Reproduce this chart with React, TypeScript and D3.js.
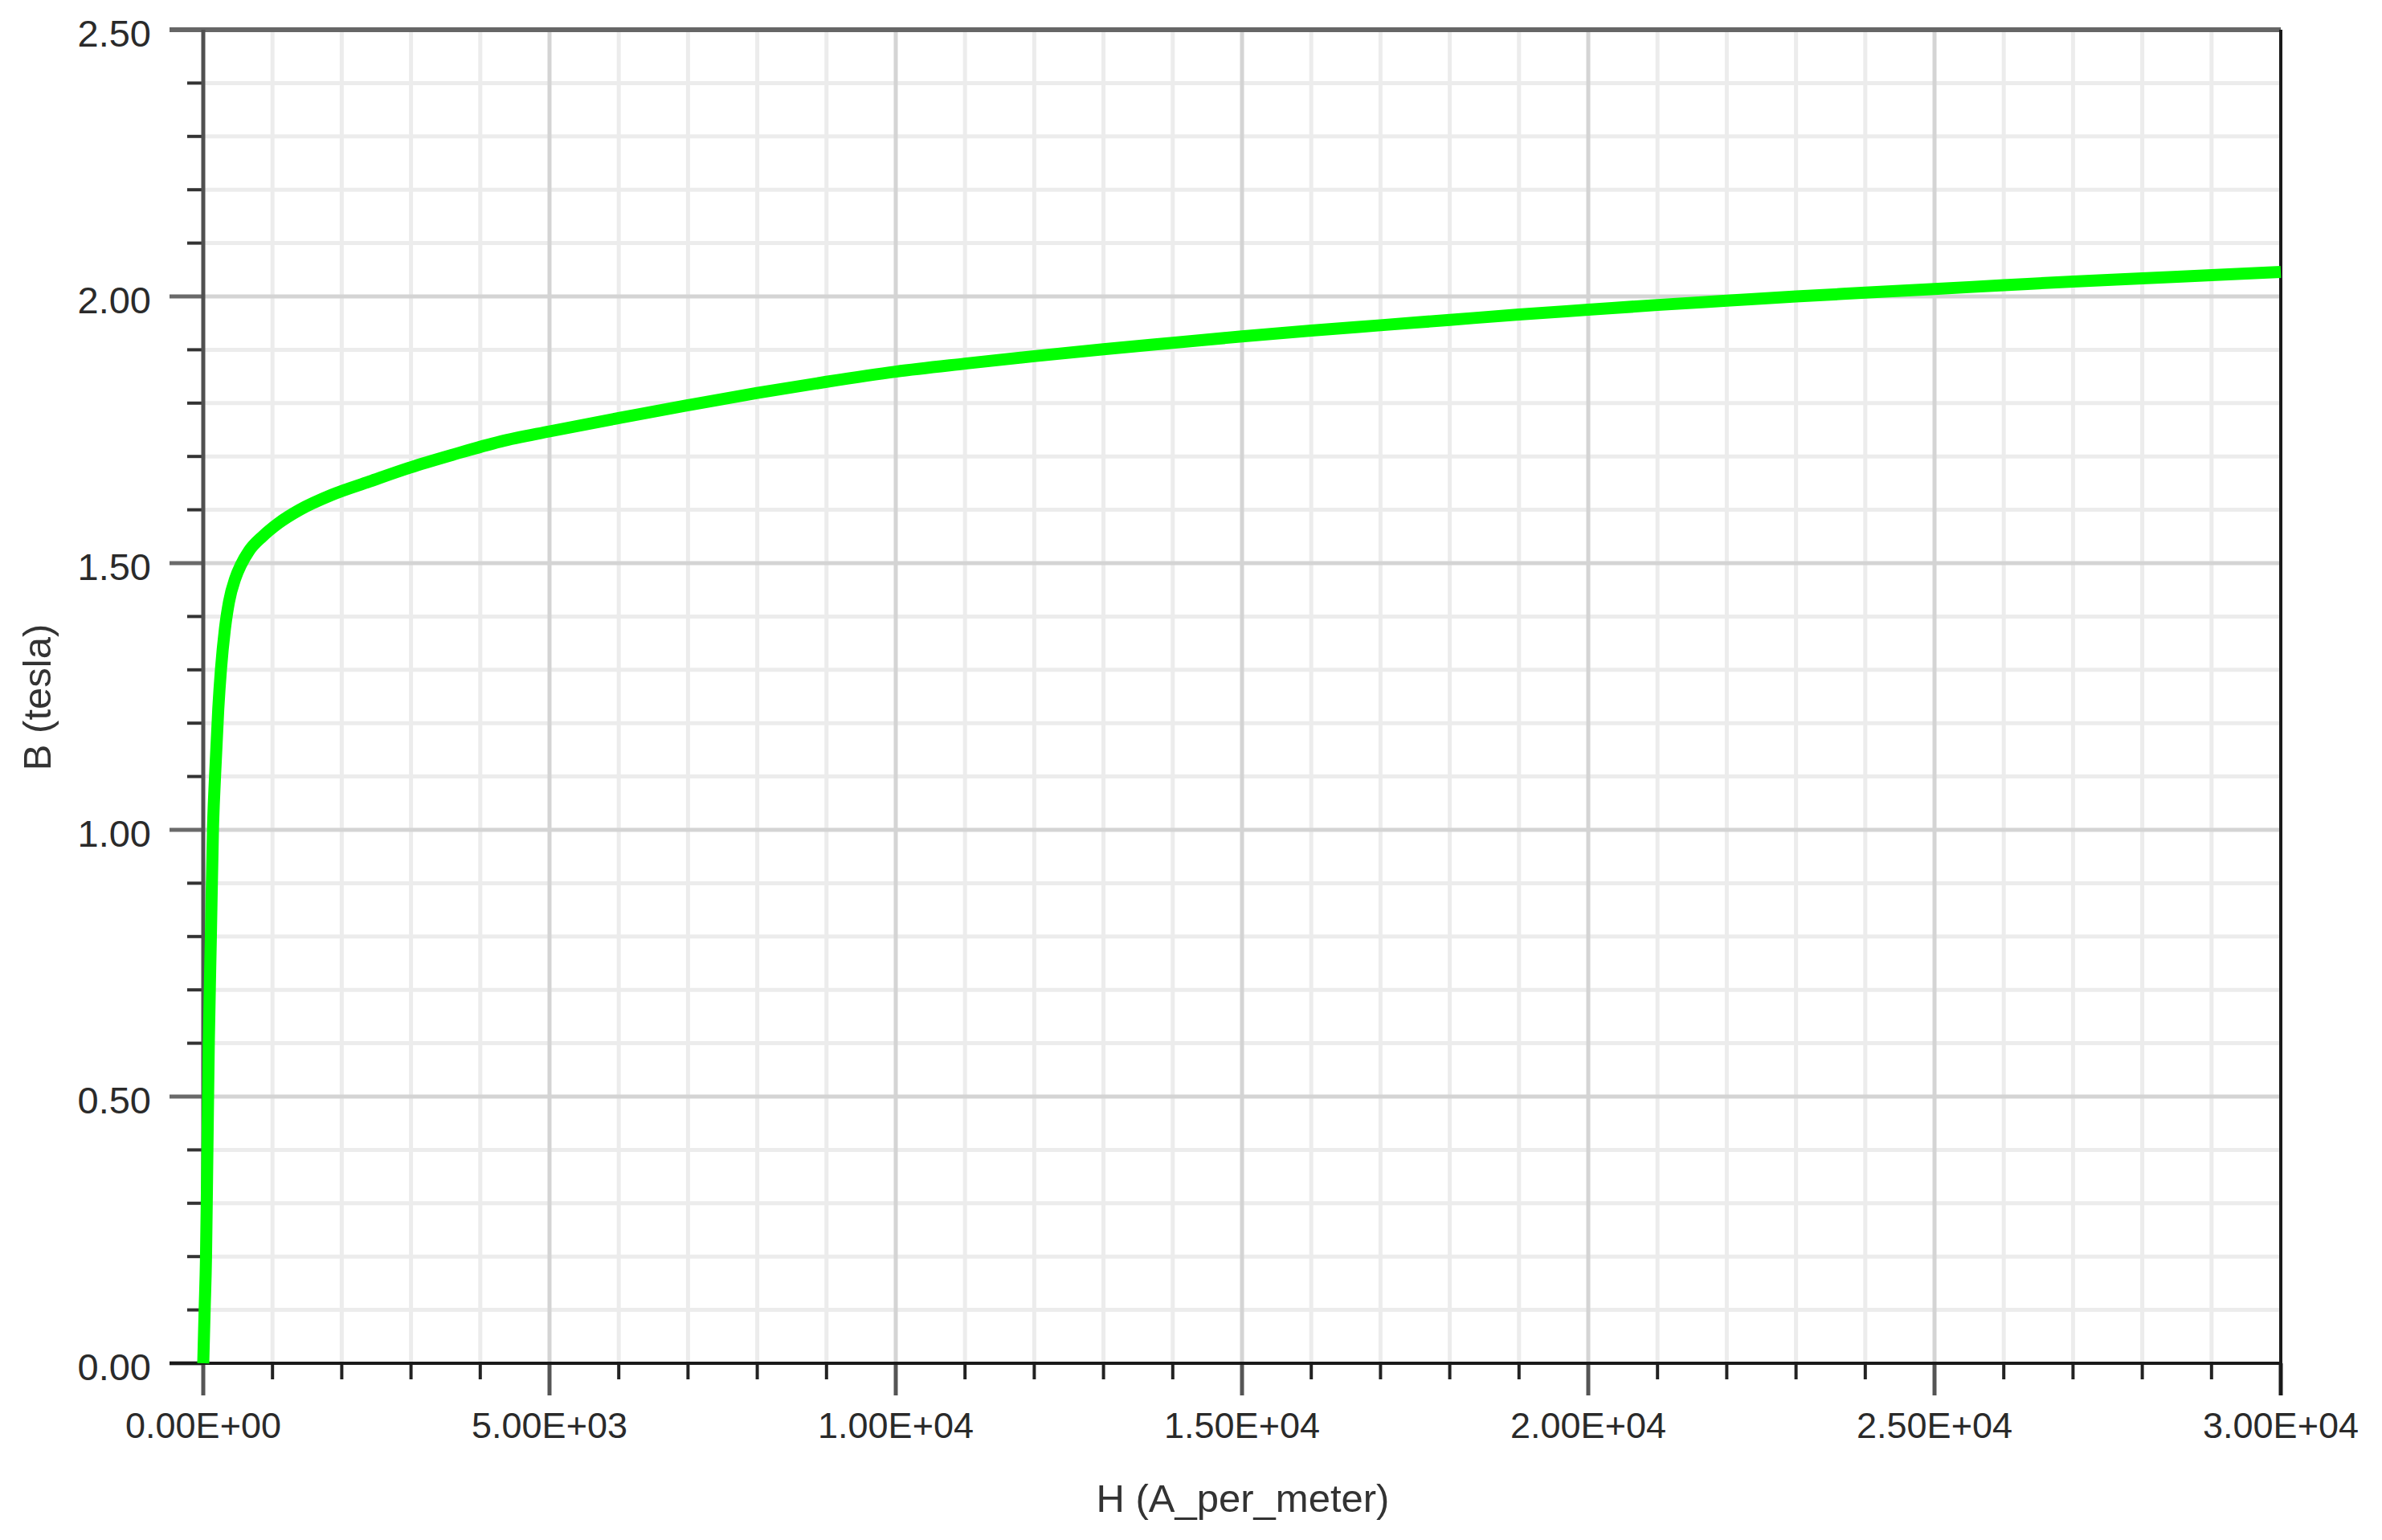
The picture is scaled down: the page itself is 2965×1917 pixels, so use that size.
import React from "react";
import * as d3 from "d3";

// ---- data ----
const H_VALUES = [
  0, 20, 40, 60, 80, 110, 140, 170, 217, 255, 313, 371, 464, 545, 661, 855,
  1087, 1392, 1856, 2401, 2981, 3597, 4293, 5000, 6000, 7000, 8000, 9000,
  10000, 11000, 12000, 13000, 14000, 15000, 16000, 17000, 18000, 19000,
  20000, 21000, 22000, 23000, 24000, 25000, 26000, 27000, 28000, 29000, 30000,
];
const B_VALUES = [
  0, 0.1, 0.2, 0.4, 0.6, 0.8, 1.0, 1.1, 1.227, 1.3, 1.377, 1.427, 1.472,
  1.497, 1.523, 1.55, 1.575, 1.6, 1.628, 1.653, 1.679, 1.703, 1.728, 1.747,
  1.772, 1.796, 1.819, 1.84, 1.859, 1.874, 1.888, 1.901, 1.913, 1.925, 1.936,
  1.946, 1.956, 1.966, 1.975, 1.984, 1.992, 2.0, 2.007, 2.014, 2.021,
  2.028, 2.034, 2.04, 2.046,
];

const X_MAJOR_TICKS = [0, 5000, 10000, 15000, 20000, 25000, 30000];
const X_TICK_LABELS = [
  "0.00E+00", "5.00E+03", "1.00E+04", "1.50E+04", "2.00E+04", "2.50E+04", "3.00E+04",
];
const Y_MAJOR_TICKS = [0, 0.5, 1.0, 1.5, 2.0, 2.5];
const Y_TICK_LABELS = ["0.00", "0.50", "1.00", "1.50", "2.00", "2.50"];

const X_TITLE = "H (A_per_meter)";
const Y_TITLE = "B (tesla)";

// ---- layout ----
const W = 2965;
const H = 1917;
const LEFT = 253;
const RIGHT = 2839;
const TOP = 37;
const BOTTOM = 1697;
const FONT = "'Liberation Sans', Arial, sans-serif";

export default function App() {
  const x = d3.scaleLinear().domain([0, 30000]).range([LEFT, RIGHT]);
  const y = d3.scaleLinear().domain([0, 2.5]).range([BOTTOM, TOP]);

  const xMinor = x.ticks(30).filter((v) => !X_MAJOR_TICKS.includes(v));
  const yMinor = y
    .ticks(25)
    .filter((v) => !Y_MAJOR_TICKS.some((m) => Math.abs(m - v) < 1e-9));

  const pts: [number, number][] = H_VALUES.map((h, i) => [h, B_VALUES[i]]);
  const line = d3
    .line<[number, number]>()
    .x((d) => x(d[0]))
    .y((d) => y(d[1]))
    .curve(d3.curveMonotoneX);

  return (
    <svg
      width={W}
      height={H}
      style={{ position: "absolute", left: 0, top: 0, background: "#fff" }}
    >
      <rect x={0} y={0} width={W} height={H} fill="#ffffff" />
      {/* minor grid */}
      {xMinor.map((v) => (
        <line key={"gx" + v} x1={x(v)} x2={x(v)} y1={TOP} y2={BOTTOM} stroke="#ececec" strokeWidth={5} />
      ))}
      {yMinor.map((v) => (
        <line key={"gy" + v} x1={LEFT} x2={RIGHT} y1={y(v)} y2={y(v)} stroke="#ececec" strokeWidth={5} />
      ))}
      {/* major grid */}
      {X_MAJOR_TICKS.slice(1, -1).map((v) => (
        <line key={"GX" + v} x1={x(v)} x2={x(v)} y1={TOP} y2={BOTTOM} stroke="#d4d4d4" strokeWidth={5} />
      ))}
      {Y_MAJOR_TICKS.slice(1, -1).map((v) => (
        <line key={"GY" + v} x1={LEFT} x2={RIGHT} y1={y(v)} y2={y(v)} stroke="#d4d4d4" strokeWidth={5} />
      ))}

      {/* y ticks */}
      {yMinor.map((v) => (
        <line key={"ty" + v} x1={LEFT - 20} x2={LEFT} y1={y(v)} y2={y(v)} stroke="#333" strokeWidth={4} />
      ))}
      {Y_MAJOR_TICKS.map((v) => (
        <line key={"TY" + v} x1={LEFT - 42} x2={LEFT} y1={y(v)} y2={y(v)} stroke="#6a6a6a" strokeWidth={5} />
      ))}
      {/* x ticks */}
      {xMinor.map((v) => (
        <line key={"tx" + v} x1={x(v)} x2={x(v)} y1={BOTTOM} y2={BOTTOM + 20} stroke="#222" strokeWidth={4} />
      ))}
      {X_MAJOR_TICKS.map((v) => (
        <line key={"TX" + v} x1={x(v)} x2={x(v)} y1={BOTTOM} y2={BOTTOM + 40} stroke={v === 30000 ? "#1a1a1a" : "#555"} strokeWidth={5} />
      ))}

      {/* frame */}
      <line x1={LEFT - 42} x2={RIGHT} y1={TOP} y2={TOP} stroke="#666" strokeWidth={6} />
      <line x1={RIGHT} x2={RIGHT} y1={TOP} y2={BOTTOM} stroke="#1a1a1a" strokeWidth={4} />
      <line x1={LEFT - 42} x2={RIGHT} y1={BOTTOM} y2={BOTTOM} stroke="#1a1a1a" strokeWidth={4} />
      <line x1={LEFT} x2={LEFT} y1={TOP} y2={BOTTOM} stroke="#505050" strokeWidth={5} />

      {/* curve */}
      <path d={line(pts) || ""} fill="none" stroke="#00ff00" strokeWidth={15} strokeLinejoin="round" />

      {/* tick labels */}
      {Y_MAJOR_TICKS.map((v, i) => (
        <text key={"ly" + v} x={188} y={y(v) + 21} textAnchor="end" fontFamily={FONT} fontSize={47} fill="#2a2a2a">
          {Y_TICK_LABELS[i]}
        </text>
      ))}
      {X_MAJOR_TICKS.map((v, i) => (
        <text key={"lx" + v} x={x(v)} y={1790} textAnchor="middle" fontFamily={FONT} fontSize={45} fill="#2a2a2a">
          {X_TICK_LABELS[i]}
        </text>
      ))}

      {/* titles */}
      <text x={1547} y={1882} textAnchor="middle" fontFamily={FONT} fontSize={49} fill="#333">
        {X_TITLE}
      </text>
      <text
        transform={`translate(63, 868) rotate(-90)`}
        textAnchor="middle"
        fontFamily={FONT}
        fontSize={49}
        fill="#333"
      >
        {Y_TITLE}
      </text>
    </svg>
  );
}
